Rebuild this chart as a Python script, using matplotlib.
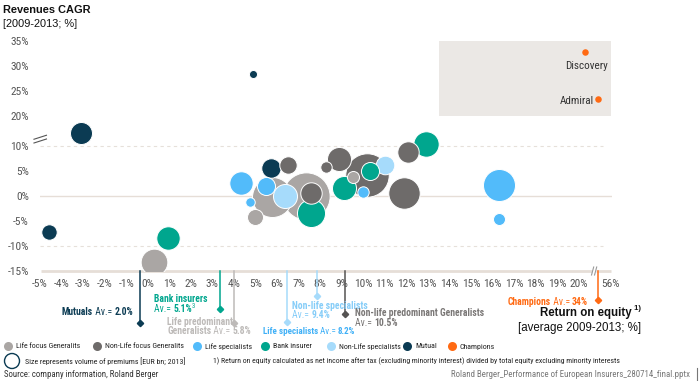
import matplotlib
matplotlib.use("Agg")
import matplotlib.pyplot as plt
from matplotlib.patches import Rectangle, Circle
from matplotlib import font_manager as fm
import numpy as np

# ---------- pick a condensed font if one is installed ----------
_fonts = fm.fontManager.ttflist
_names = {f.name for f in _fonts}
COND = None
STRETCH = "normal"
for n in ["Liberation Sans Narrow", "Arial Narrow", "Roboto Condensed", "Open Sans Condensed",
          "DejaVu Sans Condensed", "Noto Sans Condensed"]:
    if n in _names:
        COND = n
        break
if COND is None:
    for f in _fonts:
        if f.name in ("Noto Sans", "Open Sans", "Roboto", "DejaVu Sans") and str(f.stretch) in (
                "condensed", "semi-condensed", "extra-condensed", "600", "700", "75", "87.5"):
            COND = f.name
            STRETCH = "condensed"
            break
SCALE = 1.0 if COND else 0.84
NARROW = [COND, "Liberation Sans", "DejaVu Sans"] if COND else ["Liberation Sans", "DejaVu Sans"]
plt.rcParams['font.family'] = NARROW
plt.rcParams['font.stretch'] = STRETCH

# ---------------- data ----------------
categories = ["Life focus Generalits", "Non-Life focus Generalits", "Life specialists",
              "Bank insurer", "Non-Life specialists", "Mutual", "Champions"]
colors = {"LF": "#aaa6a4", "NLF": "#6e6b6a", "LS": "#52bbfa", "B": "#00a68e",
          "NLS": "#a6dbfb", "M": "#0b3b53", "C": "#ff6a13"}
cat_keys = ["LF", "NLF", "LS", "B", "NLS", "M", "C"]

# Return on equity (%), revenues CAGR (%), premiums volume (EUR bn), group
roe = [-3.1, 4.87, -4.6, 0.94, 0.3, 4.33, 4.76, 5.0, 5.7, 6.5, 5.49, 5.75, 6.37, 7.33, 7.6,
       7.6, 8.87, 8.26, 9.1, 10.2, 9.52, 10.3, 11.0, 10.0, 11.9, 12.1, 12.9, 16.3, 16.3]
cagr = [16.7, 28.4, -7.2, -8.3, -13.1, 2.7, -1.1, -4.2, 5.7, 6.3, 2.1, -0.1, 0.0, 0.0, 0.7,
        -3.3, 7.5, 5.8, 1.7, 4.2, 3.8, 5.1, 6.2, 0.9, 0.7, 8.9, 10.5, 2.2, -4.5]
premiums = [13.4, 1.8, 6.6, 15.2, 19.7, 15.2, 2.5, 7.1, 10.5, 8.4, 9.0, 44.4, 16.0, 62.0, 12.7,
            21.8, 16.0, 3.6, 16.0, 52.3, 4.0, 9.0, 9.6, 3.6, 27.4, 12.7, 17.9, 28.4, 4.0]
group = ["M", "M", "M", "B", "LF", "LS", "LS", "LF", "M", "NLF", "LS", "LF", "NLS", "LF", "NLF",
         "B", "NLF", "NLF", "B", "NLF", "LF", "B", "NLS", "LS", "NLF", "NLF", "B", "LS", "LS"]

champ_names = ["Discovery", "Admiral"]
champ_roe_axis = [20.3, 20.9]     # position on the broken axis
champ_cagr = [32.8, 23.4]

# group averages (marker position on axis, end depth, label pieces)
avg_names = ["Mutuals", "Bank insurers", "Life predominant Generalists", "Life specialists",
             "Non-life specialists", "Non-life predominant Generalists", "Champions"]
avg_values = ["2.0%", "5.1%", "5.8%", "8.2%", "9.4%", "10.5%", "34%"]
avg_marker_x = [-0.37, 3.35, 4.0, 6.48, 7.87, 9.18, 20.9]
avg_marker_depth = [-25.4, -22.6, -25.4, -25.2, -20.0, -23.6, -20.8]
avg_colors = ["#0b3b53", "#00a68e", "#bdbab8", "#a6dbfb", "#a6dbfb", "#555352", "#ff6a13"]

xticks = list(range(-5, 21)) + [21.5]
xticklabels = [f"{v}%" for v in range(-5, 21)] + ["56%"]
ytick_real = [-15, -10, -5, 0, 5, 10, 20, 25, 30, 35]


def ydisp(y):
    y = np.asarray(y, dtype=float)
    return np.where(y > 13, y - 4, y)


def fs(v):
    return v * SCALE


# ---------------- figure ----------------
W, H = 700, 381
fig = plt.figure(figsize=(7.0, 3.81), dpi=100)
ax = fig.add_axes([40 / W, 1 - 271 / H, 572 / W, (271 - 38.5) / H])
ax.set_facecolor("none")
ax.set_xlim(-4.954, 21.55)
ax.set_ylim(-15, 31.5)
for s in ax.spines.values():
    s.set_visible(False)

ax.set_xticks(xticks)
ax.set_xticklabels(xticklabels)
ax.set_yticks(ydisp(ytick_real))
ax.set_yticklabels([f"{v}%" for v in ytick_real])
ax.tick_params(axis="both", length=0, labelsize=fs(8.2), labelcolor="#555555")
ax.tick_params(axis="y", pad=8)
ax.tick_params(axis="x", pad=5.5)

# grey champions box
ax.add_patch(Rectangle((13.5, ydisp(20)), 8.0, ydisp(35) - ydisp(20),
                       facecolor="#ebe8e5", edgecolor="none", zorder=0))

# grid
ax.axhline(0, color="#e6ded7", lw=1.0, zorder=1)
for yv in [10, -10]:
    ax.axhline(yv, color="#e6e0da", lw=0.8, ls=(0, (3, 3)), zorder=1, xmax=0.985)
ax.plot([-4.954, 20.62], [-15, -15], color="#e6ded7", lw=2.0, zorder=1, clip_on=False,
        solid_capstyle="butt")
ax.plot([20.82, 21.5], [-15, -15], color="#e6ded7", lw=2.0, zorder=1, clip_on=False,
        solid_capstyle="butt")
for xb in [20.6, 20.74]:
    ax.plot([xb, xb + 0.1], [-15.8, -14.2], color="#9a9a9a", lw=0.8, clip_on=False, zorder=2)
# y axis break marks
for yb in [0.0, 0.75]:
    ax.plot([-5.28, -4.7], [10.6 + yb, 11.4 + yb], color="#555", lw=0.8, clip_on=False)

# bubbles
order = np.argsort(premiums)[::-1]
for i in order:
    s = premiums[i] * 18.7
    ax.scatter(roe[i], ydisp(cagr[i]), s=s, color=colors[group[i]], edgecolor="white",
               linewidth=0.7, zorder=3)

# champions
ax.scatter(champ_roe_axis, ydisp(champ_cagr), s=22, color=colors["C"], zorder=4, linewidth=0)
ax.annotate(champ_names[0], (champ_roe_axis[0], ydisp(champ_cagr[0])), xytext=(1, -10),
            textcoords="offset points", ha="center", va="center", fontsize=fs(8), color="#333")
ax.annotate(champ_names[1], (champ_roe_axis[1], ydisp(champ_cagr[1])), xytext=(-3, -1.5),
            textcoords="offset points", ha="right", va="center", fontsize=fs(8), color="#333")

# average markers
for x, d, c in zip(avg_marker_x, avg_marker_depth, avg_colors):
    ax.plot([x, x], [-15, d], color=c, lw=1.1, clip_on=False, zorder=2)
    ax.plot([x], [d], marker="D", ms=3.2, color=c, clip_on=False, zorder=2)

# ---------------- overlay (pixel coords) ----------------
ov = fig.add_axes([0, 0, 1, 1], zorder=5)
ov.set_xlim(0, W)
ov.set_ylim(H, 0)
ov.axis("off")
ov.patch.set_visible(False)


def rich(x, y, pieces, ha="left", size=6.9):
    size = fs(size)
    t = None
    seq = pieces if ha == "left" else pieces[::-1]
    for txt, wt, col in seq:
        if t is None:
            t = ov.text(x, y, txt, ha=ha, va="center", fontsize=size, fontweight=wt, color=col)
        elif ha == "left":
            t = ov.annotate(txt, xy=(1, 0.5), xycoords=t, ha="left", va="center",
                            fontsize=size, fontweight=wt, color=col)
        else:
            t = ov.annotate(txt, xy=(0, 0.5), xycoords=t, ha="right", va="center",
                            fontsize=size, fontweight=wt, color=col)
    return t


c = avg_colors
rich(133, 312, [(avg_names[0], "bold", c[0]), (" Av.= ", "normal", c[0]), (avg_values[0], "bold", c[0])], ha="right")
rich(154, 299, [(avg_names[1], "bold", c[1])])
t = rich(154, 309, [("Av.= ", "normal", c[1]), (avg_values[1], "bold", c[1])])
ov.annotate("3", xy=(1, 0.8), xycoords=t, ha="left", va="center", fontsize=fs(4.8), color=c[1])
rich(167, 322, [("Life predominant", "bold", c[2])])
rich(167, 331, [("Generalists", "bold", c[2]), (" Av.= ", "normal", c[2]), (avg_values[2], "bold", c[2])])
rich(263, 331.5, [(avg_names[3], "bold", "#3fb0f7"), (" Av.= ", "normal", "#3fb0f7"), (avg_values[3], "bold", "#3fb0f7")],
     size=6.5)
rich(292, 306, [(avg_names[4], "bold", "#86cdf8")])
rich(292, 315, [("Av.= ", "normal", "#86cdf8"), (avg_values[4], "bold", "#86cdf8")])
rich(355, 313.5, [(avg_names[5], "bold", "#7a7776")])
rich(355, 323, [("Av.= ", "normal", "#7a7776"), (avg_values[5], "bold", "#7a7776")])
rich(588, 302, [(avg_names[6], "bold", c[6]), (" Av.= ", "normal", c[6]), (avg_values[6], "bold", c[6])], ha="right")

WIDE = ["Liberation Sans", "DejaVu Sans"]
# titles
ov.text(3, 10, "Revenues CAGR", fontsize=7.9, fontweight="bold", va="center", ha="left",
        family=WIDE, stretch="normal", color="#111")
ov.text(3, 24, "[2009-2013; %]", fontsize=7.9, va="center", ha="left",
        family=WIDE, stretch="normal", color="#111")
t = ov.text(632, 313, "Return on equity", fontsize=8.3, fontweight="bold", va="center", ha="right",
            family=WIDE, stretch="normal", color="#111")
ov.annotate(" 1)", xy=(1, 0.85), xycoords=t, fontsize=5.5, fontweight="bold", va="center", ha="left",
            family=WIDE, stretch="normal", color="#111")
ov.text(641, 328, "[average 2009-2013; %]", fontsize=8.3, va="center", ha="right",
        family=WIDE, stretch="normal", color="#111")

# legend
leg_x = [8, 97, 197, 265, 331, 407, 452]
for lx, key, name in zip(leg_x, cat_keys, categories):
    ov.plot([lx], [346], marker="o", ms=6.5, color=colors[key], mec="none")
    ov.text(lx + 8, 346.5, name, fontsize=fs(5.7), va="center", ha="left", color="#222")
ov.add_patch(Circle((12, 361), 7.5, facecolor="none", edgecolor="#0b3b53", lw=1.0))
ov.text(25, 361, "Size represents volume of premiums [EUR bn; 2013]", fontsize=fs(5.7),
        va="center", ha="left", color="#222")
ov.text(213, 361, "1) Return on equity calculated as net income after tax (excluding minority interest) "
        "divided by total equity excluding minority interests", fontsize=fs(5.55), va="center", ha="left",
        color="#222")
ov.text(4, 374.5, "Source: company information, Roland Berger", fontsize=fs(6.3), va="center", ha="left",
        color="#333")
ov.text(690, 374.5, "Roland Berger_Performance of European Insurers_280714_final.pptx", fontsize=fs(6.4),
        va="center", ha="right", color="#777")
ov.plot([697, 697], [368, 380], color="#777", lw=0.8)

fig.savefig("out.png", dpi=100)
